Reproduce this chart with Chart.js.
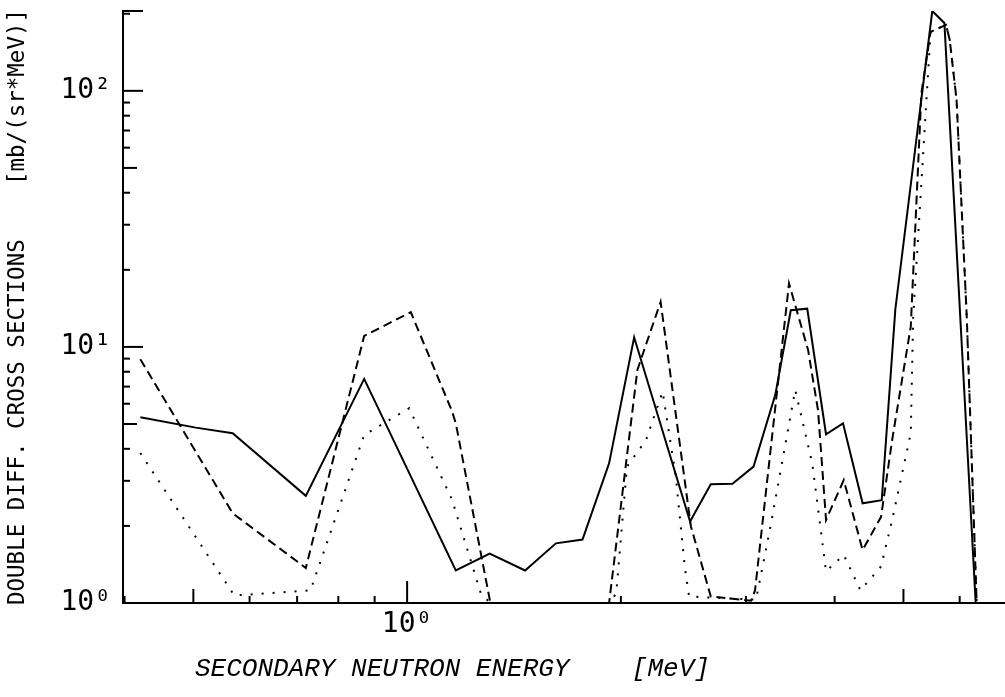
<!DOCTYPE html>
<html>
<head>
<meta charset="utf-8">
<script src="https://cdn.jsdelivr.net/npm/chart.js@4/dist/chart.umd.min.js"></script>
<style>
  html, body { margin: 0; padding: 0; background: #fff; }
</style>
</head>
<body>
<canvas id="plot" width="1005" height="697"></canvas>
<script>
// secondary neutron energy [MeV] and cross sections [mb/(sr*MeV)]
const solidX = [0.421, 0.504, 0.568, 0.720, 0.870, 1.171, 1.307, 1.466, 1.62, 1.766, 1.925, 2.088, 2.503, 2.677, 2.872, 3.075, 3.30, 3.47, 3.66, 3.89, 4.11, 4.38, 4.66, 4.87, 5.49, 5.71, 6.32];
const solidY = [5.31, 4.84, 4.60, 2.62, 7.50, 1.34, 1.56, 1.34, 1.71, 1.77, 3.51, 10.9, 2.08, 2.91, 2.92, 3.41, 6.5, 13.9, 14.1, 4.56, 5.03, 2.45, 2.52, 14.0, 205, 184, 1.0];

const dashedX = [0.421, 0.568, 0.720, 0.870, 1.012, 1.157, 1.171, 1.31, 1.925, 2.11, 2.275, 2.51, 2.677, 3.05, 3.09, 3.45, 3.67, 3.79, 3.89, 4.12, 4.38, 4.65, 4.82, 5.12, 5.30, 5.46, 5.74, 5.81, 5.94, 6.14, 6.34];
const dashedY = [8.95, 2.24, 1.37, 11.04, 13.66, 5.6, 5.03, 1.0, 1.0, 8.13, 15.0, 1.99, 1.06, 1.02, 1.12, 17.7, 9.73, 5.67, 2.11, 3.02, 1.61, 2.17, 4.33, 12.0, 98, 170, 181, 158, 92, 13.0, 1.0];

const dottedX = [0.421, 0.571, 0.731, 0.870, 1.0065, 1.157, 1.27, 1.31, 1.925, 1.97, 2.04, 2.17, 2.29, 2.39, 2.46, 2.495, 3.10, 3.25, 3.52, 3.72, 3.89, 4.12, 4.35, 4.65, 4.82, 5.12, 5.16, 5.46, 5.74, 5.81, 5.94, 6.14, 6.34];
const dottedY = [3.85, 1.07, 1.12, 4.53, 5.76, 2.53, 1.09, 1.0, 1.0, 1.09, 3.41, 4.33, 6.69, 3.11, 1.39, 1.06, 1.03, 2.0, 6.79, 3.51, 1.33, 1.54, 1.12, 1.39, 2.11, 4.6, 13.0, 170, 181, 158, 92, 13.0, 1.0];

const xRange = [0.398, 6.95];
const yRange = [1, 205];
const sup = { 0: '\u2070', 1: '\u00b9', 2: '\u00b2' };

const xTitle = 'SECONDARY NEUTRON ENERGY    [MeV]';
const yTitle = 'DOUBLE DIFF. CROSS SECTIONS    [mb/(sr*MeV)]';

function pts(xs, ys) {
  return xs.map((x, i) => ({ x: x, y: ys[i] }));
}

function decadeLabel(v) {
  const e = Math.log10(v);
  if (Math.abs(e - Math.round(e)) < 1e-9) return '10' + sup[Math.round(e)];
  return '';
}

// tick marks point into the plot, like the old plotter output
const inwardTicks = {
  id: 'inwardTicks',
  afterDatasetsDraw(chart) {
    const { ctx, chartArea: a, scales } = chart;
    ctx.save();
    ctx.strokeStyle = '#000';
    ctx.lineWidth = 2;
    const mark = (scale, horiz) => {
      const lo = Math.floor(Math.log10(scale.min));
      const hi = Math.ceil(Math.log10(scale.max));
      for (let e = lo; e <= hi; e++) {
        for (let m = 1; m <= 9; m++) {
          const v = m * Math.pow(10, e);
          if (v < scale.min * 0.999 || v > scale.max * 0.99) continue;
          const len = m === 1 ? (horiz ? 22 : 20) : (m === 5 ? 14 : 7);
          const p = scale.getPixelForValue(v);
          ctx.beginPath();
          if (horiz) { ctx.moveTo(p, a.bottom); ctx.lineTo(p, a.bottom - len); }
          else { ctx.moveTo(a.left, p); ctx.lineTo(a.left + len, p); }
          ctx.stroke();
        }
      }
    };
    mark(scales.x, true);
    mark(scales.y, false);
    // cap at the top of the y axis
    ctx.beginPath();
    ctx.moveTo(a.left, a.top);
    ctx.lineTo(a.left + 20, a.top);
    ctx.stroke();
    ctx.restore();
  }
};

const xTitlePlugin = {
  id: 'xTitle',
  afterDraw(chart) {
    const ctx = chart.ctx;
    ctx.save();
    ctx.font = 'italic 26px "Liberation Mono"';
    ctx.fillStyle = '#000';
    ctx.textAlign = 'left';
    ctx.textBaseline = 'middle';
    ctx.fillText(xTitle, 195, 669);
    ctx.restore();
  }
};

const line = { borderColor: '#000', borderWidth: 2, pointRadius: 0, tension: 0, fill: false };

new Chart(document.getElementById('plot'), {
  type: 'line',
  data: {
    datasets: [
      Object.assign({ label: 'solid', data: pts(solidX, solidY) }, line),
      Object.assign({ label: 'dashed', data: pts(dashedX, dashedY), borderDash: [9, 5] }, line),
      Object.assign({ label: 'dotted', data: pts(dottedX, dottedY), borderDash: [2, 9] }, line)
    ]
  },
  options: {
    responsive: false,
    animation: false,
    layout: { padding: { top: 11, right: 0, bottom: 0, left: 0 } },
    plugins: {
      legend: { display: false },
      tooltip: { enabled: false }
    },
    scales: {
      x: {
        type: 'logarithmic',
        min: xRange[0],
        max: xRange[1],
        grid: { drawOnChartArea: false, drawTicks: false },
        border: { display: true, color: '#000', width: 2 },
        ticks: {
          autoSkip: false,
          maxRotation: 0,
          padding: 5,
          color: '#000',
          font: { family: 'DejaVu Sans Mono', size: 28 },
          callback: decadeLabel
        },
        afterFit(s) {
          s.height = 94;
          s.paddingLeft = 0;
          s.paddingRight = 0;
        }
      },
      y: {
        type: 'logarithmic',
        min: yRange[0],
        max: yRange[1],
        grid: { drawOnChartArea: false, drawTicks: false },
        border: { display: true, color: '#000', width: 2 },
        ticks: {
          autoSkip: false,
          padding: 12,
          color: '#000',
          font: { family: 'DejaVu Sans Mono', size: 28 },
          callback: decadeLabel
        },
        title: {
          display: true,
          text: yTitle,
          color: '#000',
          padding: { top: 5, bottom: 0 },
          font: { family: 'DejaVu Sans Mono', size: 22.5 }
        },
        afterFit(s) {
          s.width = 123;
          s.paddingTop = 0;
          s.paddingBottom = 0;
        }
      }
    }
  },
  plugins: [inwardTicks, xTitlePlugin]
});
</script>
</body>
</html>
